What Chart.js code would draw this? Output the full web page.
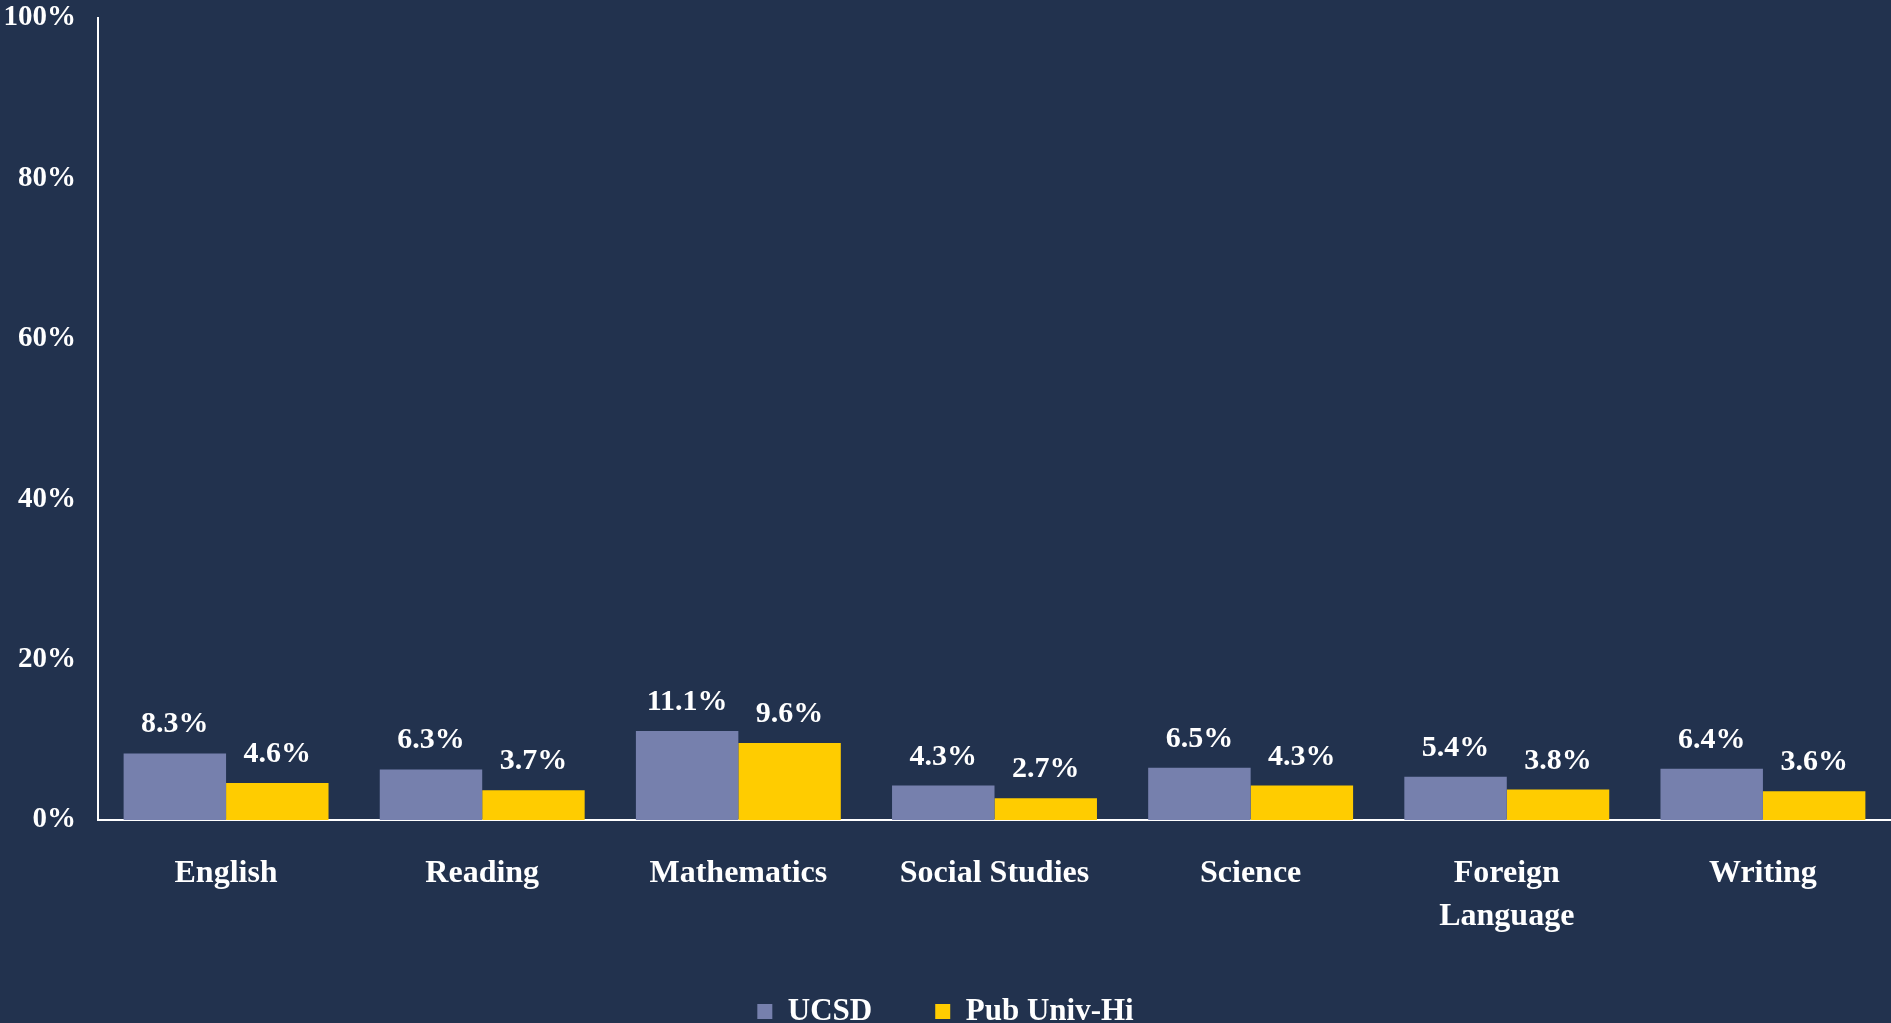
<!DOCTYPE html>
<html>
<head>
<meta charset="utf-8">
<title>UCSD vs Pub Univ-Hi</title>
<script src="https://cdn.jsdelivr.net/npm/chart.js@4"></script>
<style>
  html, body { margin: 0; padding: 0; background: #22324e; overflow: hidden; }
  #wrap { position: relative; width: 1891px; height: 1037px; }
</style>
</head>
<body>
<div id="wrap"><canvas id="subjectChart"></canvas></div>
<script>
// data
const subjects = ['English', 'Reading', 'Mathematics', 'Social Studies', 'Science', ['Foreign', 'Language'], 'Writing'];
const ucsd = [8.3, 6.3, 11.1, 4.3, 6.5, 5.4, 6.4];
const pubUnivHi = [4.6, 3.7, 9.6, 2.7, 4.3, 3.8, 3.6];
const yTicks = [0, 20, 40, 60, 80, 100];

const serif = '"Liberation Serif", "Times New Roman", serif';

// value labels above each bar
const barLabels = {
    id: 'barLabels',
    afterDatasetsDraw(chart) {
        const c = chart.ctx;
        c.save();
        c.font = 'bold 30px ' + serif;
        c.fillStyle = '#ffffff';
        c.textAlign = 'center';
        c.textBaseline = 'alphabetic';
        chart.data.datasets.forEach(function(ds, i) {
            chart.getDatasetMeta(i).data.forEach(function(bar, j) {
                c.fillText(ds.data[j].toFixed(1) + '%', bar.x, bar.y - 21);
            });
        });
        c.restore();
    }
};

new Chart(document.getElementById('subjectChart'), {
    type: 'bar',
    data: {
        labels: subjects,
        datasets: [{
            label: 'UCSD',
            data: ucsd,
            backgroundColor: '#7680ad'
        }, {
            label: 'Pub Univ-Hi',
            data: pubUnivHi,
            backgroundColor: '#ffcc00'
        }]
    },
    options: {
        responsive: true,
        maintainAspectRatio: false,
        animation: false,
        layout: { padding: 0 },
        datasets: { bar: { categoryPercentage: 0.80, barPercentage: 1.0 } },
        scales: {
            x: {
                grid: { display: false, drawTicks: false },
                border: { display: true, color: '#ffffff', width: 2 },
                ticks: {
                    color: '#ffffff',
                    font: { family: serif, size: 32, weight: 'bold', lineHeight: 1.35 },
                    padding: 32,
                    maxRotation: 0,
                    autoSkip: false
                },
                // keep the plot bottom at the same place as the original
                afterFit(scale) {
                    const lg = scale.chart.legend ? scale.chart.legend.height : 0;
                    scale.height = scale.chart.height - 820 - lg;
                }
            },
            y: {
                min: 0,
                max: 100,
                afterBuildTicks(scale) { scale.ticks = yTicks.map(v => ({ value: v })); },
                grid: { display: false, drawTicks: false },
                border: { display: true, color: '#ffffff', width: 2 },
                ticks: {
                    color: '#ffffff',
                    font: { family: serif, size: 29, weight: 'bold' },
                    padding: 22,
                    callback: v => v + '%'
                },
                afterFit(scale) {
                    scale.width = 98;
                    scale.paddingTop = 18;
                    scale.paddingBottom = 0;
                }
            }
        },
        plugins: {
            legend: {
                position: 'bottom',
                labels: {
                    color: '#ffffff',
                    boxWidth: 15,
                    boxHeight: 15,
                    padding: 63,
                    font: { family: serif, size: 31, weight: 'bold' }
                }
            },
            tooltip: { enabled: false }
        }
    },
    plugins: [barLabels]
});
</script>
</body>
</html>
